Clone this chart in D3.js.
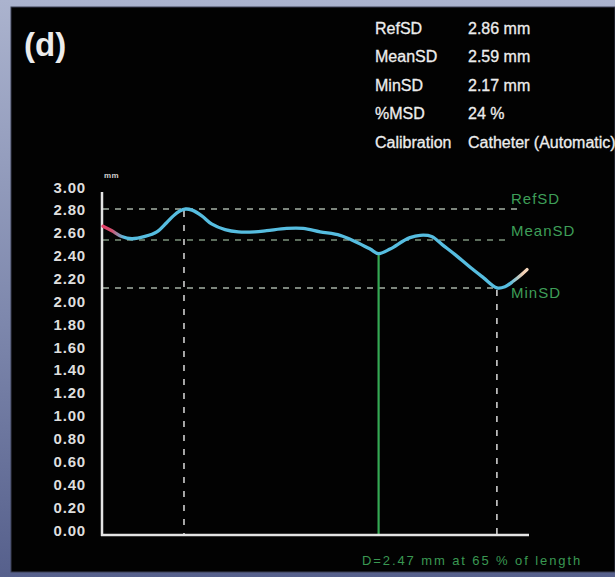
<!DOCTYPE html>
<html>
<head>
<meta charset="utf-8">
<script src="https://cdn.jsdelivr.net/npm/d3@7"></script>
<style>
  html, body { margin: 0; padding: 0; background: #7a84a8; }
  svg { display: block; }
  text { font-family: "Liberation Sans", Arial, sans-serif; }
</style>
</head>
<body>
<div id="chart"></div>
<script>
// Segment length position (% of length) and measured diameter (mm)
const lengthPct = [0, 2.1, 4.4, 6.8, 9.9, 12.7, 15.0, 16.6, 18.0, 19.5, 21.0, 23.3, 25.6, 28.8, 31.9,
  35.8, 38.6, 43.3, 47.2, 51.2, 55.9, 59.8, 63.0, 65.0, 67.7, 70.8, 72.4, 74.8, 77.5, 80.3,
  83.4, 86.6, 89.7, 92.9, 94.8, 96.8, 98.8, 100];
const diameterMm = [2.71, 2.67, 2.62, 2.60, 2.62, 2.66, 2.74, 2.80, 2.84, 2.86, 2.85, 2.80, 2.73, 2.68, 2.66,
  2.66, 2.67, 2.69, 2.69, 2.66, 2.63, 2.57, 2.51, 2.47, 2.51, 2.58, 2.61, 2.63, 2.62, 2.54,
  2.45, 2.35, 2.26, 2.17, 2.18, 2.23, 2.29, 2.33];

// Y axis tick labels (mm)
const yTickLabels = ["0.00", "0.20", "0.40", "0.60", "0.80", "1.00", "1.20", "1.40", "1.60",
  "1.80", "2.00", "2.20", "2.40", "2.60", "2.80", "3.00"];

// Reference diameter lines: name, value (mm), extent along the segment (%)
const refNames = ["RefSD", "MeanSD", "MinSD"];
const refValues = [2.86, 2.59, 2.17];
const refExtentPct = [99, 95, 93];

// Positions (% of length) where the reference and minimum diameters occur
const refSDPos = 19.1;
const minSDPos = 92.9;
// Measured diameter marker
const markerPos = 65;
const markerValue = 2.47;

// Summary block
const summaryLabels = ["RefSD", "MeanSD", "MinSD", "%MSD", "Calibration"];
const summaryValues = ["2.86 mm", "2.59 mm", "2.17 mm", "24 %", "Catheter (Automatic)"];

const W = 615, H = 577;
const svg = d3.select("#chart").append("svg").attr("width", W).attr("height", H);
const defs = svg.append("defs");

// page background
const bg = defs.append("linearGradient").attr("id", "bg").attr("x1", 0).attr("y1", 0).attr("x2", 0).attr("y2", 1);
bg.append("stop").attr("offset", "0%").attr("stop-color", "#abb3ce");
bg.append("stop").attr("offset", "55%").attr("stop-color", "#7e88ad");
bg.append("stop").attr("offset", "100%").attr("stop-color", "#56608c");
svg.append("rect").attr("width", W).attr("height", H).attr("fill", "url(#bg)");

// black display panel
svg.append("rect").attr("x", 11).attr("y", 7).attr("width", W - 11).attr("height", 565)
  .attr("fill", "#020202").attr("stroke", "#3a3f52").attr("stroke-width", 1);

// scales
const x = d3.scaleLinear().domain([0, 100]).range([103, 527]);
const y = d3.scaleLinear().domain([0, 3]).range([536, 193]);

// panel title
svg.append("text").attr("x", 24).attr("y", 56).attr("fill", "#ececec")
  .attr("font-size", 33).attr("font-weight", "bold").text("(d)");

// summary block
const sum = svg.append("g").attr("fill", "#ededed").attr("font-size", 16)
  .attr("stroke", "#ededed").attr("stroke-width", 0.3);
summaryLabels.forEach((lab, i) => {
  const yy = 33.5 + i * 28.6;
  sum.append("text").attr("x", 375).attr("y", yy).text(lab);
  sum.append("text").attr("x", 468).attr("y", yy).text(summaryValues[i]);
});

// y axis labels
const yAxis = d3.axisLeft(y)
  .tickValues(yTickLabels.map(Number))
  .tickFormat((d, i) => yTickLabels[i])
  .tickSize(0).tickPadding(0);
const gy = svg.append("g").attr("transform", "translate(86,-1)").call(yAxis);
gy.select(".domain").remove();
gy.selectAll("text")
  .attr("fill", "#dedede").attr("font-size", 15).attr("font-weight", "bold")
  .attr("letter-spacing", 0.8).attr("dy", 0).attr("font-family", "'Liberation Sans', Arial, sans-serif");

// units label
svg.append("text").attr("x", 104).attr("y", 178).attr("fill", "#cfcfcf")
  .attr("font-size", 8).attr("font-weight", "bold").attr("letter-spacing", 0.5).text("mm");

// horizontal reference dashed lines with their labels
const labelShift = [-5, -4, 10];
const refG = svg.append("g");
refValues.forEach((v, i) => {
  refG.append("line")
    .attr("x1", x(0)).attr("x2", x(refExtentPct[i]))
    .attr("y1", y(v)).attr("y2", y(v))
    .attr("stroke", i === 1 ? "#5d6e5d" : "#7c857c").attr("stroke-width", 2)
    .attr("stroke-dasharray", "6,6");
  refG.append("text")
    .attr("x", 511).attr("y", y(v) + labelShift[i])
    .attr("fill", "#3e9e58").attr("font-size", 15).attr("letter-spacing", 1)
    .text(refNames[i]);
});

// vertical dashed markers at the reference and minimum diameter positions
[[refSDPos, refValues[0]], [minSDPos, refValues[2]]].forEach(([p, v]) => {
  svg.append("line")
    .attr("x1", x(p)).attr("x2", x(p)).attr("y1", y(v) + 2).attr("y2", y(0))
    .attr("stroke", "#cfcfcf").attr("stroke-width", 1.6).attr("stroke-dasharray", "6,8");
});

// measured diameter marker
svg.append("line")
  .attr("x1", x(markerPos)).attr("x2", x(markerPos))
  .attr("y1", y(markerValue)).attr("y2", y(0))
  .attr("stroke", "#34a853").attr("stroke-width", 2.2);

// axes lines
svg.append("line").attr("x1", 102).attr("x2", 102).attr("y1", 192).attr("y2", 536)
  .attr("stroke", "#e4e4e4").attr("stroke-width", 2.5);
svg.append("line").attr("x1", 101).attr("x2", 529).attr("y1", 535).attr("y2", 535)
  .attr("stroke", "#e4e4e4").attr("stroke-width", 2.5);

// diameter profile
const grad = defs.append("linearGradient").attr("id", "profile")
  .attr("gradientUnits", "userSpaceOnUse")
  .attr("x1", x(0)).attr("x2", x(100)).attr("y1", 0).attr("y2", 0);
grad.append("stop").attr("offset", "0%").attr("stop-color", "#e8406a");
grad.append("stop").attr("offset", "2%").attr("stop-color", "#d4506e");
grad.append("stop").attr("offset", "5%").attr("stop-color", "#56bde0");
grad.append("stop").attr("offset", "96%").attr("stop-color", "#56bde0");
grad.append("stop").attr("offset", "99%").attr("stop-color", "#f3cfb2");
grad.append("stop").attr("offset", "100%").attr("stop-color", "#f6d8bd");

const line = d3.line()
  .x((d, i) => x(lengthPct[i]))
  .y(d => y(d))
  .curve(d3.curveCatmullRom.alpha(0.5));

svg.append("path").datum(diameterMm)
  .attr("d", line).attr("fill", "none")
  .attr("stroke", "url(#profile)").attr("stroke-width", 3.3)
  .attr("stroke-linecap", "round").attr("stroke-linejoin", "round");

// measurement annotation
svg.append("text").attr("x", 362).attr("y", 565)
  .attr("fill", "#3a9852").attr("font-size", 13).attr("letter-spacing", 1.9)
  .text(`D=${markerValue} mm at ${markerPos} % of length`);
</script>
</body>
</html>
